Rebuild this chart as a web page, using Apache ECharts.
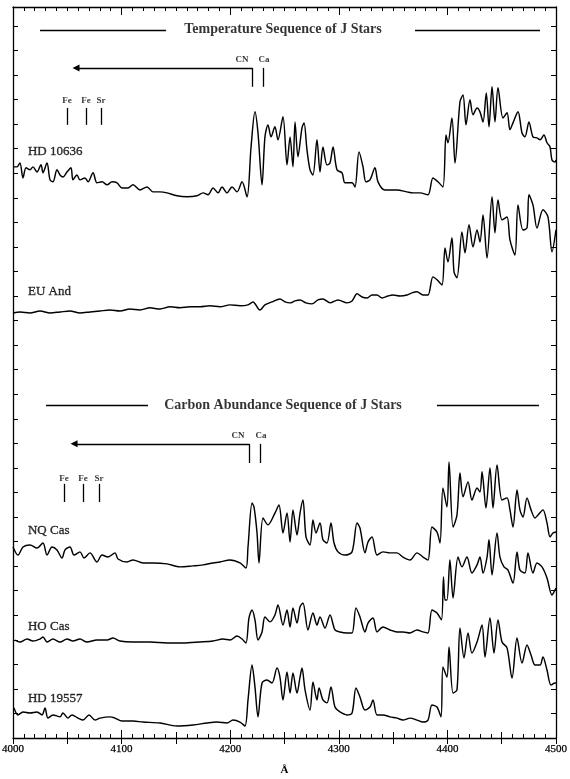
<!DOCTYPE html>
<html><head><meta charset="utf-8">
<script src="https://cdn.jsdelivr.net/npm/echarts@6/dist/echarts.min.js"></script>
<style>html,body{margin:0;padding:0;background:#fff}#c{width:570px;height:779px}</style>
</head><body><div id="c"></div>
<script>
// ---- Spectra (wavelength in Å, flux in offset plot units; 1 unit = one y tick) ----
const hd10636Wl = [4000,4003.7,4006.4,4009.2,4012.0,4015.7,4018.4,4022.1,4025.8,4027.6,4031.3,4034.1,4036.8,4040.5,4043.3,4046.0,4049.7,4053.4,4055.2,4058.9,4061.7,4066.3,4069.1,4073.7,4077.3,4082.0,4086.6,4091.2,4095.8,4100.4,4105.9,4110.5,4116.9,4123.4,4128.9,4135.4,4141.8,4151.0,4160.2,4169.4,4175.0,4179.6,4184.2,4188.8,4192.5,4197.1,4201.7,4206.3,4210.9,4215.5,4219.2,4222.8,4225.6,4229.3,4232.0,4234.8,4237.6,4241.2,4244.0,4248.6,4252.3,4255.1,4257.8,4259.7,4262.4,4266.1,4268.0,4270.7,4273.5,4276.2,4279.9,4282.7,4285.4,4289.1,4291.9,4294.7,4298.3,4303.0,4305.7,4312.2,4314.9,4318.6,4322.3,4325.0,4328.7,4333.3,4336.1,4342.5,4353.6,4362.8,4368.3,4374.8,4382.1,4386.7,4391.3,4395.9,4398.7,4400.5,4404.2,4407.0,4411.6,4414.4,4417.1,4420.8,4423.6,4427.3,4430.0,4432.8,4435.8,4438.3,4441.1,4443.8,4446.6,4451.2,4454.9,4457.6,4460.4,4465.0,4468.7,4471.4,4475.1,4478.8,4482.5,4485.3,4488.9,4491.7,4494.5,4496.3,4499.1,4500];
const hd10636Flux = [23.26,23.26,23.42,22.81,23.22,23.14,23.26,23.05,23.35,23.02,23.42,22.73,22.65,23.14,22.93,22.85,23.05,23.22,22.73,22.93,22.73,22.81,22.65,23.02,22.61,22.65,22.53,22.65,22.61,22.40,22.40,22.53,22.32,22.44,22.24,22.24,22.20,22.08,22.04,22.08,22.20,22.12,22.40,22.20,22.44,22.20,22.44,22.24,22.65,22.04,24.07,25.50,24.64,22.53,24.48,24.97,24.48,24.89,24.36,25.30,23.34,24.48,23.26,25.09,23.67,24.85,25.05,23.95,23.14,22.93,24.36,23.05,24.07,23.34,23.42,24.07,23.14,23.01,22.61,22.61,22.44,23.87,23.26,22.65,22.73,23.22,22.65,22.32,22.32,22.24,22.20,22.20,22.12,22.81,22.65,22.44,24.56,24.24,25.25,23.42,25.91,26.19,24.97,25.99,25.38,25.66,25.50,25.09,26.27,24.89,26.52,25.09,26.48,25.25,25.46,24.77,25.05,25.50,24.64,24.48,25.09,24.48,24.44,24.36,24.56,24.24,24.07,23.54,23.46,23.54];

const euAndWl = [4000,4006.4,4015.7,4024.9,4034.1,4043.3,4052.5,4061.7,4070.9,4080.1,4089.3,4098.5,4107.7,4116.9,4126.1,4135.4,4144.6,4153.8,4163.0,4172.2,4181.4,4190.6,4199.8,4209.0,4216.4,4221.0,4227.4,4232.0,4238.5,4245.8,4250.5,4255.1,4259.7,4264.3,4269.8,4275.3,4280.8,4285.4,4291.9,4299.3,4307.5,4312.2,4316.8,4321.4,4326.0,4330.6,4335.2,4339.8,4345.3,4349.9,4356.4,4362.8,4367.4,4372.0,4377.5,4382.1,4386.7,4390.4,4395.0,4397.8,4400.5,4404.2,4406.1,4408.8,4413.4,4416.2,4419.9,4423.6,4427.3,4430.0,4432.8,4436.5,4441.1,4443.8,4446.6,4450.3,4454.9,4457.6,4462.2,4465.0,4469.6,4473.3,4475.1,4478.8,4482.5,4488.0,4492.6,4496.3,4500];
const euAndFlux = [17.31,17.35,17.31,17.39,17.31,17.35,17.39,17.31,17.35,17.39,17.43,17.39,17.47,17.43,17.52,17.47,17.56,17.52,17.56,17.56,17.60,17.56,17.64,17.60,17.64,17.76,17.43,17.64,17.76,17.88,17.76,17.72,17.80,17.84,17.72,17.68,17.84,17.88,17.72,17.84,17.72,17.80,18.09,17.96,17.92,18.04,18.04,17.92,18.00,18.04,18.00,18.04,18.13,18.17,18.04,18.04,18.78,18.66,18.45,19.96,19.39,20.37,18.98,18.74,20.61,19.76,20.90,20.00,20.69,20.20,21.30,19.55,22.04,20.57,21.91,21.10,21.22,20.29,19.67,21.71,20.69,20.77,22.12,21.71,20.77,21.51,21.22,19.80,20.69];

const nqCasWl = [4000,4004.6,4009.2,4015.7,4022.1,4027.6,4031.3,4035.9,4040.5,4045.1,4047.9,4052.5,4056.2,4061.7,4065.4,4070.9,4077.3,4082.0,4087.5,4093.9,4096.7,4105.0,4110.5,4119.7,4128.9,4141.8,4153.8,4165.7,4175.0,4184.2,4190.6,4199.8,4209.0,4214.5,4216.4,4220.1,4221.9,4224.7,4226.5,4230.2,4234.8,4241.2,4244.9,4248.6,4252.3,4255.1,4257.8,4261.5,4264.3,4267.0,4269.8,4273.5,4276.2,4279.0,4282.7,4285.4,4289.1,4292.8,4295.6,4299.3,4305.7,4312.2,4316.8,4319.5,4324.1,4326.9,4330.6,4335.2,4340.7,4347.1,4353.6,4359.1,4365.6,4372.0,4377.5,4382.1,4385.8,4390.4,4393.2,4395.9,4399.6,4401.5,4405.2,4408.8,4411.6,4414.4,4419.0,4422.6,4427.3,4430.0,4431.9,4435.5,4439.2,4442.0,4445.7,4450.3,4454.9,4457.6,4460.4,4464.1,4466.8,4469.6,4473.3,4477.0,4480.7,4483.4,4488.0,4491.7,4494.5,4497.2,4500];
const nqCasFlux = [7.78,7.45,7.78,7.86,7.74,7.94,7.45,7.78,7.66,7.33,7.66,7.78,7.45,7.58,7.33,7.54,7.17,7.45,7.37,7.54,7.29,7.17,7.25,7.13,7.13,7.09,6.97,7.01,7.05,7.13,7.17,7.25,7.13,6.92,7.78,9.57,9.41,8.35,7.13,8.96,8.68,9.16,9.49,8.35,9.16,7.98,9.29,8.27,9.16,9.69,8.19,7.86,8.88,8.35,8.76,8.07,7.94,8.76,7.94,7.58,7.45,7.58,8.76,8.55,7.54,7.98,8.19,7.45,7.58,7.54,7.54,7.37,7.25,7.54,7.37,7.25,8.59,8.39,7.94,10.18,9.41,11.24,8.59,9.08,10.79,9.82,10.43,9.69,10.18,10.02,10.84,9.37,11.00,9.37,11.12,9.69,9.78,9.29,8.59,10.10,9.29,9.00,9.78,9.29,8.96,9.08,9.29,8.76,8.19,8.35,8.39];

const hoCasWl = [4001.8,4006.4,4012.9,4018.4,4024.9,4027.6,4031.3,4036.8,4043.3,4049.7,4055.2,4061.7,4068.1,4077.3,4086.6,4092.1,4098.5,4110.5,4126.1,4141.8,4156.5,4172.2,4184.2,4193.4,4199.8,4206.3,4210.9,4214.5,4217.3,4220.1,4222.8,4225.6,4229.3,4232.0,4236.7,4241.2,4244.0,4248.6,4252.3,4255.1,4257.8,4261.5,4264.3,4267.0,4271.6,4276.2,4279.9,4282.7,4287.3,4291.9,4296.5,4301.1,4307.5,4312.2,4315.8,4319.5,4324.1,4326.9,4331.5,4335.2,4340.7,4347.1,4353.6,4359.1,4365.6,4372.0,4377.5,4382.1,4385.8,4390.4,4394.5,4396.4,4397.8,4399.6,4402.3,4405.2,4409.8,4413.4,4418.0,4422.6,4427.3,4430.0,4432.8,4436.5,4438.3,4441.1,4445.7,4448.4,4452.1,4455.8,4460.4,4464.1,4466.8,4471.4,4474.2,4478.8,4482.5,4487.1,4491.7,4496.3,4499.1,4500];
const hoCasFlux = [3.99,3.91,4.03,3.95,4.03,4.11,3.91,4.03,3.91,4.03,3.95,4.03,3.91,3.99,3.99,4.07,3.95,3.91,3.91,3.87,3.87,3.91,3.95,4.03,3.99,4.15,4.03,3.87,4.89,5.21,4.81,3.99,4.32,4.93,4.73,5.01,5.42,4.60,5.21,4.52,5.30,4.68,5.34,5.50,4.40,5.09,4.60,4.93,4.48,5.01,4.40,4.32,4.28,4.28,5.30,4.93,4.32,4.68,4.89,4.32,4.52,4.40,4.32,4.32,4.28,4.40,4.32,4.28,5.21,5.09,4.81,6.56,5.62,5.62,7.25,5.70,7.37,6.97,7.37,6.72,7.05,7.37,6.72,7.37,8.07,6.64,8.35,7.37,6.97,6.84,6.31,7.58,6.84,6.72,7.54,6.72,7.13,6.97,6.52,5.82,6.03,6.11];

const hd19557Wl = [4000.9,4004.6,4009.2,4015.7,4022.1,4026.7,4029.5,4032.2,4036.8,4043.3,4046.0,4050.6,4054.3,4059.9,4064.5,4070.0,4075.5,4080.1,4089.3,4093.9,4100.4,4110.5,4119.7,4135.4,4151.0,4165.7,4178.6,4187.8,4197.1,4202.6,4209.0,4213.6,4216.4,4220.1,4222.8,4225.6,4229.3,4233.9,4238.5,4243.1,4245.8,4248.6,4252.3,4255.1,4257.8,4261.5,4264.3,4266.1,4268.9,4273.5,4276.2,4279.9,4281.8,4285.4,4289.1,4292.8,4296.5,4301.1,4307.5,4312.2,4315.8,4319.5,4324.1,4328.7,4331.5,4335.2,4340.7,4347.1,4353.6,4359.1,4365.6,4372.0,4377.5,4382.1,4385.8,4390.4,4394.1,4395.9,4399.6,4401.5,4405.2,4408.8,4411.6,4415.3,4419.0,4422.6,4427.3,4431.9,4434.6,4439.2,4442.9,4446.6,4450.3,4454.9,4459.5,4464.1,4468.7,4473.3,4477.0,4480.7,4485.3,4488.0,4491.7,4495.4,4499.1,4500];
const hd19557Flux = [1.22,0.94,1.06,1.02,1.06,0.94,1.22,0.81,0.94,0.86,1.02,0.81,0.94,0.81,0.73,0.94,0.73,0.81,0.86,0.81,0.69,0.69,0.65,0.61,0.49,0.53,0.61,0.65,0.61,0.73,0.65,0.49,1.55,2.97,2.08,0.86,2.24,2.36,2.24,2.85,2.48,1.55,2.69,1.83,2.65,1.83,2.48,2.85,1.96,1.14,2.28,1.55,2.04,1.55,1.43,2.08,1.26,1.06,0.94,1.02,2.04,1.67,1.14,1.26,1.55,0.94,0.94,0.86,0.81,0.73,0.81,0.73,0.65,0.73,1.34,1.26,0.86,2.89,2.48,3.71,1.83,1.96,4.48,3.26,4.28,3.46,3.91,4.60,3.30,4.89,3.46,4.81,3.91,3.67,2.44,4.07,3.05,3.79,3.38,2.97,2.97,3.30,2.77,2.16,2.24,2.24];

// ---- Labels and line identifications ----
const starNames = ['HD 10636', 'EU And', 'NQ Cas', 'HO Cas', 'HD 19557'];
const starLabelY = [23.87, 18.17, 8.43, 4.52, 1.59];
const starLabelWl = 4013.8;
const panelTitles = ['Temperature Sequence of J Stars', 'Carbon Abundance Sequence of J Stars'];
const panelTitleY = [28.84, 13.56];
const panelTitleWl = 4248.6;
const titleRuleWl = [[4024.9, 4140.9, 4370.2, 4485.3], [4030.4, 4124.3, 4390.4, 4484.3]];
const ionNames = ['Fe', 'Fe', 'Sr'];
const ionWl = [[4049.7, 4067.2, 4081.0], [4047.0, 4064.5, 4079.2]];
const ionLabelY = [25.95, 10.55];
const ionTickY = [[25.66, 24.97], [10.35, 9.61]];
const bandNames = ['CN', 'Ca'];
const bandLabelWl = [[4210.9, 4231.1], [4207.2, 4228.4]];
const bandWl = [[4220.1, 4230.2], [4217.3, 4227.4]];
const bandLabelY = [27.62, 12.30];
const bandTickY = [[27.29, 26.52], [11.98, 11.20]];
const arrowEndWl = [4058.0, 4056.2];

const zip = (a, b) => a.map((v, i) => [v, b[i]]);
const spectra = [
  zip(hd10636Wl, hd10636Flux), zip(euAndWl, euAndFlux), zip(nqCasWl, nqCasFlux),
  zip(hoCasWl, hoCasFlux), zip(hd19557Wl, hd19557Flux)
];

const serif = 'Liberation Serif';
const black = '#000';
const ink = {color: black, fontFamily: serif, textBorderColor: black, textBorderWidth: 0.35};
const texts = [];
starNames.forEach((n, i) => texts.push({value: [starLabelWl, starLabelY[i]],
  label: Object.assign({formatter: n, position: 'right', distance: 0, fontSize: 13}, ink)}));
panelTitles.forEach((t, i) => texts.push({value: [panelTitleWl, panelTitleY[i]],
  label: {formatter: t, position: 'inside', fontSize: 14, fontWeight: 'bold', color: black, fontFamily: serif}}));
[0, 1].forEach(p => {
  ionNames.forEach((n, j) => texts.push({value: [ionWl[p][j], ionLabelY[p]],
    label: {formatter: n, position: 'inside', fontSize: 9, fontWeight: 'bold', color: black, fontFamily: serif}}));
  bandNames.forEach((n, j) => texts.push({value: [bandLabelWl[p][j], bandLabelY[p]],
    label: {formatter: n, position: 'inside', fontSize: 9, fontWeight: 'bold', color: black, fontFamily: serif}}));
});

const segs = [];
const arrows = [];
[0, 1].forEach(p => {
  const r = titleRuleWl[p];
  segs.push([{coord: [r[0], panelTitleY[p]]}, {coord: [r[1], panelTitleY[p]]}]);
  segs.push([{coord: [r[2], panelTitleY[p]]}, {coord: [r[3], panelTitleY[p]]}]);
  ionWl[p].forEach(w => segs.push([{coord: [w, ionTickY[p][0]]}, {coord: [w, ionTickY[p][1]]}]));
  bandWl[p].forEach(w => segs.push([{coord: [w, bandTickY[p][0]]}, {coord: [w, bandTickY[p][1]]}]));
  arrows.push([{coord: [bandWl[p][0], bandTickY[p][0]]}, {coord: [arrowEndWl[p], bandTickY[p][0]]}]);
});

const xBase = {type: 'value', min: 4000, max: 4500, splitLine: {show: false}};
const xAxes = [
  Object.assign({}, xBase, {position: 'bottom', interval: 100,
    axisLine: {show: true, onZero: false, lineStyle: {color: black, width: 1.3}},
    axisTick: {show: true, inside: true, length: 8, lineStyle: {color: black, width: 1}},
    minorTick: {show: true, splitNumber: 10, length: 4, lineStyle: {color: black, width: 1}},
    axisLabel: {show: true, color: black, fontFamily: serif, fontSize: 11, margin: 6,
      textBorderColor: black, textBorderWidth: 0.25, formatter: v => String(v)},
    name: 'Å', nameLocation: 'middle', nameGap: 27,
    nameTextStyle: {color: black, fontFamily: serif, fontSize: 11, fontWeight: 'bold'}}),
  Object.assign({}, xBase, {position: 'bottom', interval: 50,
    axisLine: {show: false}, axisLabel: {show: false},
    axisTick: {show: true, inside: true, length: 6, lineStyle: {color: black, width: 1}}}),
  Object.assign({}, xBase, {position: 'top', interval: 100,
    axisLine: {show: true, onZero: false, lineStyle: {color: black, width: 1.3}},
    axisTick: {show: true, inside: true, length: 8, lineStyle: {color: black, width: 1}},
    minorTick: {show: true, splitNumber: 10, length: 4, lineStyle: {color: black, width: 1}},
    axisLabel: {show: false}}),
  Object.assign({}, xBase, {position: 'top', interval: 50,
    axisLine: {show: false}, axisLabel: {show: false},
    axisTick: {show: true, inside: true, length: 6, lineStyle: {color: black, width: 1}}})
];
const yBase = {type: 'value', min: 0, max: 29.77, interval: 1, splitLine: {show: false},
  axisLabel: {show: false},
  axisLine: {show: true, onZero: false, lineStyle: {color: black, width: 1.3}},
  axisTick: {show: true, inside: true, length: 5, lineStyle: {color: black, width: 1}}};
const yAxes = [Object.assign({}, yBase, {position: 'left'}), Object.assign({}, yBase, {position: 'right'})];

const series = spectra.map(d => ({
  type: 'line', data: d, symbol: 'none', smooth: 0.3, silent: true,
  xAxisIndex: 0, yAxisIndex: 0,
  lineStyle: {color: '#000', width: 1.45}
}));
series.push({
  type: 'scatter', data: texts, symbolSize: 0, silent: true, xAxisIndex: 0, yAxisIndex: 0,
  label: {show: true, color: black, fontFamily: serif},
  markLine: {silent: true, symbol: ['none', 'none'], label: {show: false},
    lineStyle: {color: black, width: 1.3, type: 'solid'}, data: segs}
});
series.push({
  type: 'line', data: [], silent: true, xAxisIndex: 0, yAxisIndex: 0,
  markLine: {silent: true, symbol: ['none', 'triangle'], symbolSize: 7, label: {show: false},
    lineStyle: {color: black, width: 1.3, type: 'solid'}, itemStyle: {color: black}, data: arrows}
});

const chart = echarts.init(document.getElementById('c'), null, {renderer: 'canvas'});
chart.setOption({
  backgroundColor: '#fff',
  animation: false,
  grid: {left: 13, right: 14, top: 7, bottom: 41, containLabel: false, outerBoundsMode: 'none'},
  xAxis: xAxes,
  yAxis: yAxes,
  series: series
});
</script>
</body></html>
